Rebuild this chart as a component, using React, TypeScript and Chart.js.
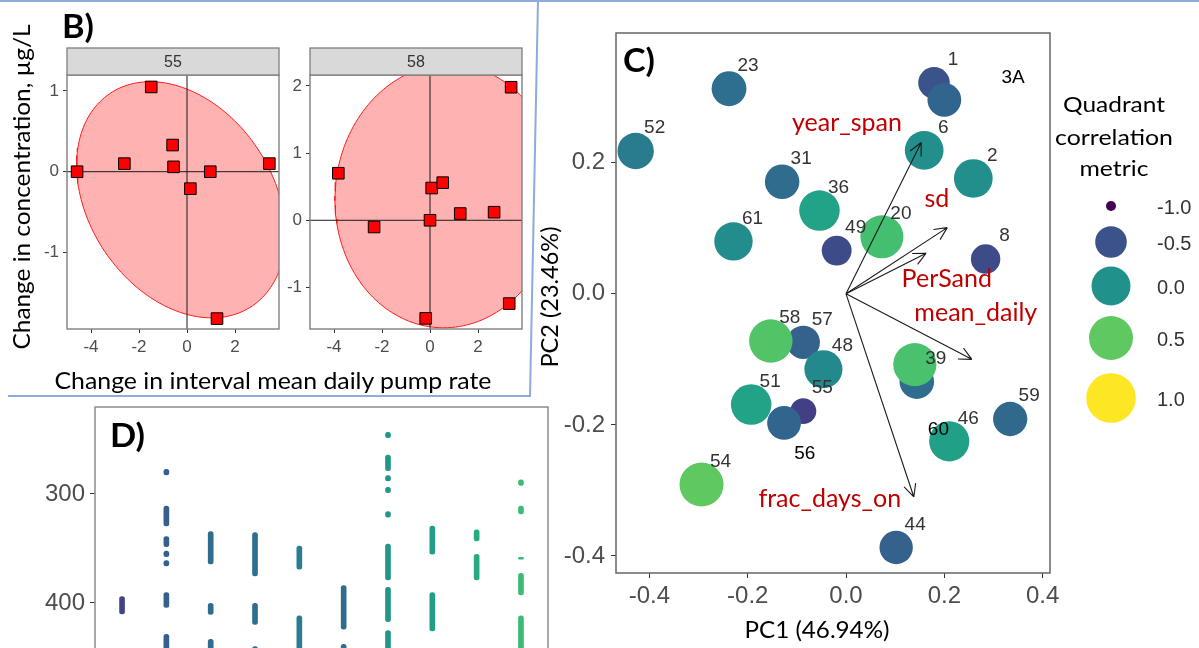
import React, { useEffect, useRef } from 'react';
import { Chart, registerables } from 'chart.js';

Chart.register(...registerables);

const TICK_FONT = "'Liberation Sans', Arial, sans-serif";
const TEXT_FONT = "Lato, 'Open Sans', sans-serif";

// ---------- B) change in pumping vs change in concentration ----------
const facetNames = ['55', '58'];
const pumpDelta55 = [-4.58, -2.61, -1.49, -0.6, -0.56, 0.14, 0.97, 3.43, 1.25];
const concDelta55 = [0.0, 0.1, 1.05, 0.33, 0.06, -0.21, 0.0, 0.1, -1.82];
const pumpDelta58 = [-3.82, -2.33, -0.18, 0.0, 0.07, 0.53, 1.26, 2.67, 3.3, 3.38];
const concDelta58 = [0.7, -0.1, -1.46, 0.0, 0.48, 0.56, 0.1, 0.12, -1.24, 1.98];
// ellipse: centre x, centre y, x cos-term, x sin-term, y half-height
const ellipse55 = [-0.25, -0.348, -1.28, 4.157, 1.463];
const ellipse58 = [0.69, 0.36, 0.12, 4.65, 1.96];
const pumpRange = [-5.0, 3.833];
const concRange55 = [-1.949, 1.198];
const concRange58 = [-1.618, 2.162];
const pumpTicks = [-4, -2, 0, 2];
const concTicks55 = [-1, 0, 1];
const concTicks58 = [-1, 0, 1, 2];

// ---------- C) PCA biplot ----------
const wellIds = ['1', '', '23', '52', '6', '2', '31', '36', '61', '49', '20', '8', '57', '58', '48', '39', '', '51', '55', '', '46', '59', '54', '44'];
const pc1 = [0.179, 0.2, -0.238, -0.428, 0.159, 0.259, -0.13, -0.054, -0.229, -0.019, 0.073, 0.284, -0.087, -0.153, -0.046, 0.144, 0.14, -0.193, -0.087, -0.126, 0.21, 0.334, -0.294, 0.102];
const pc2 = [0.322, 0.296, 0.313, 0.218, 0.219, 0.176, 0.171, 0.127, 0.08, 0.066, 0.087, 0.053, -0.074, -0.072, -0.115, -0.134, -0.108, -0.169, -0.179, -0.197, -0.225, -0.191, -0.291, -0.387];
const quadMetric = [-0.5, -0.35, -0.28, -0.18, -0.02, -0.02, -0.3, 0.15, -0.04, -0.54, 0.4, -0.55, -0.38, 0.45, -0.06, -0.3, 0.42, 0.15, -0.63, -0.35, 0.12, -0.32, 0.5, -0.38];
const loadingNames = ['year_span', 'sd', 'PerSand', 'mean_daily', 'frac_days_on'];
const loadingPC1 = [0.153, 0.206, 0.163, 0.256, 0.138];
const loadingPC2 = [0.231, 0.101, 0.062, -0.1, -0.31];
const loadingLabelPC1 = [0.002, 0.185, 0.205, 0.264, -0.033];
const loadingLabelPC2 = [0.26, 0.145, 0.023, -0.029, -0.313];
const noteText = ['3A', '60', '56'];
const notePC1 = [0.34, 0.188, -0.084];
const notePC2 = [0.329, -0.208, -0.2435];
const pc1Range = [-0.468, 0.415];
const pc2Range = [-0.426, 0.398];
const pc1Ticks = [-0.4, -0.2, 0, 0.2, 0.4];
const pc2Ticks = [-0.4, -0.2, 0, 0.2];
const legendBreaks = [-1, -0.5, 0, 0.5, 1];
const legendRadius = [5, 15.8, 19.5, 22, 24.8];

// ---------- D) depth intervals per well ----------
const depthColumns = [1, 2, 3, 4, 5, 6, 7, 8, 9, 10];
const depthMetric = [-0.6, -0.4, -0.3, -0.28, -0.16, -0.3, 0.04, 0.1, 0.22, 0.36];
const depthIntervals: number[][][] = [
  [[394.2, 410]],
  [[277.5, 282.5], [311, 329.4], [339.1, 348.3], [352.5, 357.5], [361, 366], [390.5, 404], [428.7, 452]],
  [[334.6, 364.2], [400.3, 410.4], [433.3, 452]],
  [[335.5, 375.2], [400.3, 419.6], [440, 455]],
  [[347.7, 369.1], [411.9, 452]],
  [[384, 424], [437.9, 455]],
  [[243.4, 248.4], [264.2, 278.6], [283.1, 288.1], [293.8, 298.8], [316.2, 321.2], [345.9, 378.9], [385.6, 417.2], [425.4, 455]],
  [[329.4, 355.3], [390.5, 425.7]],
  [[333, 343], [355.3, 378.9]],
  [[287.1, 292.1], [311, 318.3], [358.2, 359.8], [372.8, 392.7], [411.9, 455]],
];
const depthRange = [220.2, 487.2];
const depthTicks = [300, 400];
const columnRange = [0.39, 10.61];

// ---------- colour / size scales ----------
const VIRIDIS = ['#440154', '#482475', '#414487', '#355f8d', '#2a788e', '#21918c', '#22a884', '#44bf70', '#7ad151', '#bddf26', '#fde725'];
function hexRgb(h: string) {
  return [1, 3, 5].map((i) => parseInt(h.slice(i, i + 2), 16));
}
function viridis(t: number) {
  const c = Math.max(0, Math.min(1, t)) * 10;
  const i = Math.min(9, Math.floor(c));
  const f = c - i;
  const a = hexRgb(VIRIDIS[i]);
  const b = hexRgb(VIRIDIS[i + 1]);
  const m = a.map((v, k) => Math.round(v + (b[k] - v) * f));
  return `rgb(${m[0]},${m[1]},${m[2]})`;
}
const metricColor = (m: number) => viridis((m + 1) / 2);
function metricRadius(m: number) {
  for (let i = 0; i < legendBreaks.length - 1; i++) {
    if (m <= legendBreaks[i + 1]) {
      const f = (m - legendBreaks[i]) / (legendBreaks[i + 1] - legendBreaks[i]);
      return legendRadius[i] + f * (legendRadius[i + 1] - legendRadius[i]);
    }
  }
  return legendRadius[legendRadius.length - 1];
}

function ellipseOutline(p: number[], n = 180) {
  const [cx, cy, kx, wx, hy] = p;
  const pts = [];
  for (let i = 0; i <= n; i++) {
    const s = (2 * Math.PI * i) / n;
    pts.push({ x: cx + kx * Math.cos(s) - wx * Math.sin(s), y: cy + hy * Math.cos(s) });
  }
  return pts;
}

// ---------- plugins ----------
const framePlugin = {
  id: 'frame',
  afterDatasetsDraw(chart: any, _a: any, opts: any) {
    const { ctx, chartArea: c } = chart;
    ctx.save();
    ctx.strokeStyle = opts.color || '#7f7f7f';
    ctx.lineWidth = opts.width || 1.3;
    ctx.strokeRect(c.left, c.top, c.right - c.left, c.bottom - c.top);
    ctx.restore();
  },
};

const stripPlugin = {
  id: 'strip',
  afterDraw(chart: any, _a: any, opts: any) {
    const { ctx, chartArea: c } = chart;
    const h = 27;
    ctx.save();
    ctx.fillStyle = '#d9d9d9';
    ctx.fillRect(c.left, c.top - h, c.right - c.left, h);
    ctx.strokeStyle = '#7f7f7f';
    ctx.lineWidth = 1.3;
    ctx.strokeRect(c.left, c.top - h, c.right - c.left, h);
    ctx.fillStyle = '#333';
    ctx.font = `16px ${TICK_FONT}`;
    ctx.textAlign = 'center';
    ctx.textBaseline = 'middle';
    ctx.fillText(opts.text, (c.left + c.right) / 2, c.top - h / 2 + 1);
    ctx.restore();
  },
};

const biplotPlugin = {
  id: 'biplot',
  afterDatasetsDraw(chart: any) {
    const { ctx } = chart;
    const x = chart.scales.x;
    const y = chart.scales.y;
    const ox = x.getPixelForValue(0);
    const oy = y.getPixelForValue(0);
    ctx.save();
    ctx.strokeStyle = '#1a1a1a';
    ctx.lineWidth = 1.1;
    loadingNames.forEach((_, i) => {
      const tx = x.getPixelForValue(loadingPC1[i]);
      const ty = y.getPixelForValue(loadingPC2[i]);
      const ang = Math.atan2(ty - oy, tx - ox);
      ctx.beginPath();
      ctx.moveTo(ox, oy);
      ctx.lineTo(tx, ty);
      for (const d of [-1, 1]) {
        const a = ang + Math.PI + d * 0.45;
        ctx.moveTo(tx, ty);
        ctx.lineTo(tx + 14 * Math.cos(a), ty + 14 * Math.sin(a));
      }
      ctx.stroke();
    });
    ctx.textAlign = 'center';
    ctx.textBaseline = 'middle';
    ctx.fillStyle = '#c00000';
    ctx.font = `25px ${TEXT_FONT}`;
    loadingNames.forEach((name, i) => {
      ctx.fillText(name, x.getPixelForValue(loadingLabelPC1[i]), y.getPixelForValue(loadingLabelPC2[i]));
    });
    ctx.fillStyle = '#333';
    ctx.font = `19px ${TICK_FONT}`;
    const meta = chart.getDatasetMeta(0);
    meta.data.forEach((pt: any, i: number) => {
      if (wellIds[i]) ctx.fillText(wellIds[i], pt.x + 19, pt.y - 23);
    });
    ctx.fillStyle = '#000';
    noteText.forEach((t, i) => {
      ctx.fillText(t, x.getPixelForValue(notePC1[i]), y.getPixelForValue(notePC2[i]));
    });
    ctx.restore();
  },
  afterDraw(chart: any) {
    const { ctx } = chart;
    const keyX = 571;
    const keyY = [206, 242, 286, 338, 398];
    ctx.save();
    ctx.font = `20px ${TICK_FONT}`;
    ctx.textAlign = 'left';
    ctx.textBaseline = 'middle';
    legendBreaks.forEach((b, i) => {
      ctx.beginPath();
      ctx.fillStyle = metricColor(b);
      ctx.arc(keyX, keyY[i], metricRadius(b), 0, Math.PI * 2);
      ctx.fill();
      ctx.fillStyle = '#333';
      ctx.fillText(b.toFixed(1), 617, keyY[i] + 2);
    });
    ctx.restore();
  },
};

// ---------- chart configs ----------
const fixTicks = (vals: number[]) => (axis: any) => {
  axis.ticks = vals.map((value) => ({ value }));
};
// pin an axis to a given thickness and drop the label-overflow padding
const fixHeight = (h: number) => (s: any) => {
  s.height = h;
  s.paddingLeft = 0;
  s.paddingRight = 0;
};
const fixWidth = (w: number) => (s: any) => {
  s.width = w;
  s.paddingTop = 0;
  s.paddingBottom = 0;
};

function axisStyle(size: number, padding: number, tickLength: number, fmt?: (v: number) => string) {
  return {
    ticks: {
      font: { family: TICK_FONT, size },
      color: '#4d4d4d',
      padding,
      autoSkip: false,
      maxRotation: 0,
      ...(fmt ? { callback: fmt } : {}),
    },
    grid: { display: true, drawOnChartArea: false, drawTicks: true, tickLength, color: '#333', lineWidth: 1 },
    border: { display: false },
  };
}

function facetConfig(name: string, xs: number[], ys: number[], ell: number[], yRange: number[], yTicks: number[], yAxisW: number, padRight: number) {
  return {
    type: 'scatter',
    data: {
      datasets: [
        {
          data: xs.map((x, i) => ({ x, y: ys[i] })),
          pointStyle: 'rect',
          pointRadius: 8.2,
          pointBackgroundColor: '#ff0000',
          pointBorderColor: '#000',
          pointBorderWidth: 1,
          order: 0,
        },
        {
          type: 'line',
          data: [{ x: pumpRange[0], y: 0 }, { x: pumpRange[1], y: 0 }],
          borderColor: '#1a1a1a',
          borderWidth: 1,
          pointRadius: 0,
          order: 1,
        },
        {
          type: 'line',
          data: [{ x: 0, y: yRange[0] }, { x: 0, y: yRange[1] }],
          borderColor: '#1a1a1a',
          borderWidth: 1,
          pointRadius: 0,
          order: 1,
        },
        {
          type: 'line',
          data: ellipseOutline(ell),
          fill: 'shape',
          backgroundColor: 'rgba(255,0,0,0.3)',
          borderColor: '#ff1a1a',
          borderWidth: 1,
          pointRadius: 0,
          tension: 0,
          order: 2,
        },
      ],
    },
    options: {
      responsive: false,
      animation: false,
      devicePixelRatio: 1,
      events: [],
      layout: { padding: { top: 75, right: padRight, left: 0, bottom: 0 } },
      plugins: {
        legend: { display: false },
        tooltip: { enabled: false },
        frame: { color: '#7f7f7f', width: 1.4 },
        strip: { text: name },
      },
      scales: {
        x: {
          type: 'linear',
          min: pumpRange[0],
          max: pumpRange[1],
          afterBuildTicks: fixTicks(pumpTicks),
          afterFit: fixHeight(66),
          ...axisStyle(17, 4, 4),
        },
        y: {
          type: 'linear',
          min: yRange[0],
          max: yRange[1],
          afterBuildTicks: fixTicks(yTicks),
          afterFit: fixWidth(yAxisW),
          ...axisStyle(17, 4, 4),
        },
      },
    },
    plugins: [framePlugin, stripPlugin],
  };
}

function biplotConfig() {
  const oneDecimal = (v: number) => v.toFixed(1);
  return {
    type: 'scatter',
    data: {
      datasets: [
        {
          data: pc1.map((x, i) => ({ x, y: pc2[i] })),
          pointRadius: quadMetric.map(metricRadius),
          pointBackgroundColor: quadMetric.map(metricColor),
          pointBorderWidth: 0,
        },
      ],
    },
    options: {
      responsive: false,
      animation: false,
      devicePixelRatio: 1,
      events: [],
      layout: { padding: { top: 33, right: 149, left: 0, bottom: 0 } },
      plugins: {
        legend: { display: false },
        tooltip: { enabled: false },
        frame: { color: '#666', width: 1.5 },
      },
      scales: {
        x: {
          type: 'linear',
          min: pc1Range[0],
          max: pc1Range[1],
          afterBuildTicks: fixTicks(pc1Ticks),
          afterFit: fixHeight(75),
          ...axisStyle(24, 4, 5, oneDecimal),
        },
        y: {
          type: 'linear',
          min: pc2Range[0],
          max: pc2Range[1],
          afterBuildTicks: fixTicks(pc2Ticks),
          afterFit: fixWidth(76),
          ...axisStyle(24, 6, 5, oneDecimal),
        },
      },
    },
    plugins: [biplotPlugin, framePlugin],
  };
}

function depthConfig() {
  const segs: { x: number; y: number[] }[] = [];
  const colors: string[] = [];
  depthIntervals.forEach((col, ci) => {
    col.forEach((iv) => {
      segs.push({ x: depthColumns[ci], y: iv });
      colors.push(metricColor(depthMetric[ci]));
    });
  });
  return {
    type: 'bar',
    data: {
      datasets: [
        {
          data: segs,
          backgroundColor: colors,
          barThickness: 5,
          borderRadius: 2.5,
          borderSkipped: false,
          borderWidth: 0,
        },
      ],
    },
    options: {
      responsive: false,
      animation: false,
      devicePixelRatio: 1,
      events: [],
      layout: { padding: { top: 9, right: 12, left: 0, bottom: 0 } },
      plugins: {
        legend: { display: false },
        tooltip: { enabled: false },
        frame: { color: '#8c8c8c', width: 1.5 },
      },
      scales: {
        x: { type: 'linear', min: columnRange[0], max: columnRange[1], display: false, offset: false },
        y: {
          type: 'linear',
          reverse: true,
          min: depthRange[0],
          max: depthRange[1],
          afterBuildTicks: fixTicks(depthTicks),
          afterFit: fixWidth(95),
          ...axisStyle(24, 5, 5),
        },
      },
    },
    plugins: [framePlugin],
  };
}

function ChartBox({ box, build }: { box: number[]; build: () => any }) {
  const ref = useRef<HTMLCanvasElement>(null);
  useEffect(() => {
    const chart = new Chart(ref.current as HTMLCanvasElement, build());
    return () => chart.destroy();
  }, []);
  const [left, top, width, height] = box;
  return (
    <div style={{ position: 'absolute', left, top, width, height }}>
      <canvas ref={ref} width={width} height={height} style={{ width, height, display: 'block' }} />
    </div>
  );
}

export default function App() {
  const blue = '#8faadc';
  return (
    <div style={{ position: 'absolute', left: 0, top: 0, width: 1199, height: 648, overflow: 'hidden', background: '#fff' }}>
      <ChartBox box={[0, 0, 290, 395]} build={() => facetConfig(facetNames[0], pumpDelta55, concDelta55, ellipse55, concRange55, concTicks55, 67, 11)} />
      <ChartBox box={[285, 0, 250, 395]} build={() => facetConfig(facetNames[1], pumpDelta58, concDelta58, ellipse58, concRange58, concTicks58, 25, 13)} />
      <ChartBox box={[540, 0, 659, 648]} build={biplotConfig} />
      <ChartBox box={[0, 398, 560, 300]} build={depthConfig} />
      <svg width={1199} height={648} style={{ position: 'absolute', left: 0, top: 0, pointerEvents: 'none' }} fontFamily={TEXT_FONT}>
        <line x1={0} y1={1} x2={1199} y2={1} stroke={blue} strokeWidth={2} />
        <line x1={538} y1={0} x2={530} y2={397} stroke={blue} strokeWidth={2} />
        <line x1={8} y1={396} x2={530} y2={396} stroke={blue} strokeWidth={2} />
        <text x={62} y={38} fontSize={32} fontWeight={700} textLength={32} lengthAdjust="spacingAndGlyphs">B)</text>
        <text x={623} y={72} fontSize={32} fontWeight={700} textLength={32} lengthAdjust="spacingAndGlyphs">C)</text>
        <text x={110} y={447} fontSize={32} fontWeight={700} textLength={35} lengthAdjust="spacingAndGlyphs">D)</text>
        <text x={273} y={389} fontSize={24} textAnchor="middle" textLength={437} lengthAdjust="spacingAndGlyphs">Change in interval mean daily pump rate</text>
        <text transform="translate(30,187) rotate(-90)" fontSize={24} textAnchor="middle" textLength={325} lengthAdjust="spacingAndGlyphs">Change in concentration, µg/L</text>
        <text x={817} y={638} fontSize={23} textAnchor="middle" textLength={145} lengthAdjust="spacingAndGlyphs">PC1 (46.94%)</text>
        <text transform="translate(558,297) rotate(-90)" fontSize={23} textAnchor="middle" textLength={141} lengthAdjust="spacingAndGlyphs">PC2 (23.46%)</text>
        <text x={1114} y={112} fontSize={21} textAnchor="middle" textLength={102} lengthAdjust="spacingAndGlyphs">Quadrant</text>
        <text x={1114} y={145} fontSize={21} textAnchor="middle" textLength={118} lengthAdjust="spacingAndGlyphs">correlation</text>
        <text x={1114} y={176} fontSize={21} textAnchor="middle" textLength={69} lengthAdjust="spacingAndGlyphs">metric</text>
      </svg>
    </div>
  );
}
